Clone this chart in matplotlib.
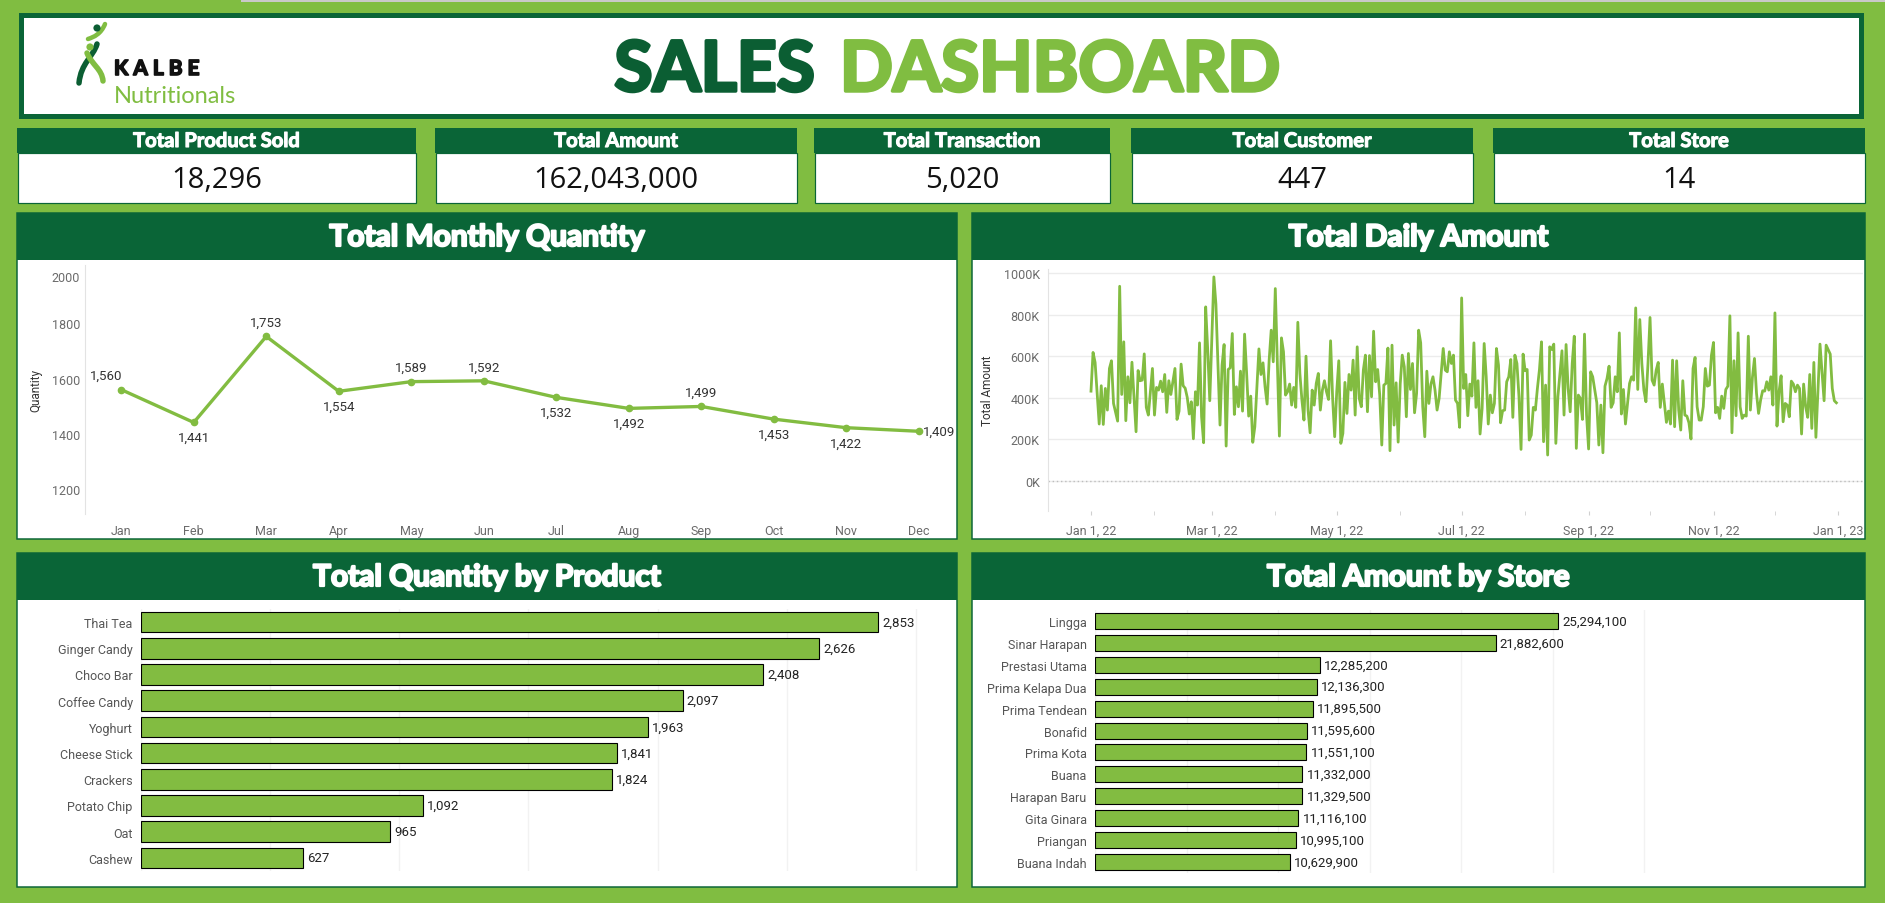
import numpy as np
import pandas as pd
import matplotlib
matplotlib.use("Agg")
import matplotlib.pyplot as plt
from matplotlib.patches import Rectangle, PathPatch, Circle
from matplotlib.path import Path
import matplotlib.patheffects as pe
import matplotlib.dates as mdates
from matplotlib.ticker import FuncFormatter
from matplotlib.transforms import ScaledTranslation


# ---- data ----
kpi_titles = ["Total Product Sold", "Total Amount", "Total Transaction", "Total Customer", "Total Store"]
kpi_values = [18296, 162043000, 5020, 447, 14]

months = ["Jan", "Feb", "Mar", "Apr", "May", "Jun", "Jul", "Aug", "Sep", "Oct", "Nov", "Dec"]
monthly_qty = [1560, 1441, 1753, 1554, 1589, 1592, 1532, 1492, 1499, 1453, 1422, 1409]

products = ["Thai Tea", "Ginger Candy", "Choco Bar", "Coffee Candy", "Yoghurt",
            "Cheese Stick", "Crackers", "Potato Chip", "Oat", "Cashew"]
product_qty = [2853, 2626, 2408, 2097, 1963, 1841, 1824, 1092, 965, 627]

stores = ["Lingga", "Sinar Harapan", "Prestasi Utama", "Prima Kelapa Dua", "Prima Tendean",
          "Bonafid", "Prima Kota", "Buana", "Harapan Baru", "Gita Ginara", "Priangan", "Buana Indah"]
store_amount = [25294100, 21882600, 12285200, 12136300, 11895500, 11595600,
                11551100, 11332000, 11329500, 11116100, 10995100, 10629900]

# daily amount (thousands), day offset from 1 Jan 2022
daily_day = [
    0, 1, 2, 4, 5, 6, 7, 8, 9, 10, 11, 13, 14, 15, 16, 17, 18, 19, 20, 22, 23, 24, 25, 26, 27,
    28, 30, 31, 32, 33, 34, 35, 36, 37, 38, 39, 41, 42, 43, 44, 45, 46, 47, 48, 49, 50, 51, 52,
    53, 54, 55, 56, 57, 58, 60, 61, 63, 64, 65, 66, 67, 68, 69, 70, 71, 72, 73, 74, 75, 76, 77,
    78, 79, 80] + list(range(82, 171)) + list(range(172, 354)) + [354, 356, 358, 359, 361, 362, 363, 364]
daily_amount_k = [
    432, 618, 570, 274, 458, 272, 445, 341, 541, 578, 373, 288, 936, 416, 669, 290, 501, 376, 571,
    237, 531, 482, 485, 611, 354, 317, 541, 317, 450, 437, 480, 429, 512, 330, 482, 416, 541, 296,
    336, 562, 458, 446, 402, 322, 381, 203, 429, 365, 664, 309, 184, 837, 629, 386, 981, 850, 269,
    557, 656, 168, 536, 544, 709, 320, 453, 357, 528, 336, 706, 517, 312,
    408, 186, 261, 635, 512, 568, 453, 370, 581, 725, 573, 925, 565, 216, 688, 621, 413, 429, 466,
    365, 450, 354, 763, 517, 389, 293, 600, 341, 232, 437, 365, 469, 517, 341, 437, 482, 429, 392,
    674, 397, 213, 429, 578, 181, 229, 474, 325, 512, 437, 581, 317, 645, 397, 357, 533, 605, 333,
    603, 405, 720, 477, 536, 413, 173, 461, 469, 639, 146, 653, 269, 472, 187, 466, 605, 549, 309,
    613, 440, 565, 328, 421, 725, 664, 357, 213, 528, 373, 466, 501, 437, 341, 397,
    637, 533, 525, 621, 565, 605, 389, 373, 258, 880, 445, 512, 314, 466, 408, 664, 354, 482, 226,
    349, 661, 501, 274, 413, 328, 373, 637, 557, 280, 338, 341, 477, 501, 584, 306, 605, 565, 405,
    152, 610, 530, 536, 197, 221, 354, 341, 445, 536, 669, 189, 461, 125, 645, 632, 658, 181, 405,
    517, 626, 317, 656, 445, 333, 565, 696, 157, 413, 397, 296, 706, 317, 154, 525, 501, 437, 376,
    173, 365, 136, 456, 493, 552, 354, 376, 501, 429, 712, 322, 440, 274, 373, 469,
    501, 485, 832, 440, 776, 565, 437, 381, 565, 786, 485, 461, 533, 570, 354, 466, 373, 282, 336,
    274, 581, 261, 578, 341, 245, 482, 317, 312, 280, 202, 541, 594, 357, 293, 293, 357, 541, 456,
    461, 605, 666, 328, 354, 301, 408, 349, 440, 456, 794, 232, 578, 314, 712, 357, 301, 317, 312,
    696, 341, 498, 589, 421, 325, 389, 434, 432, 477, 437, 501, 365, 808, 264, 429, 506, 285, 373,
    365, 309, 480, 466, 429, 461, 445, 226, 466, 357, 306, 512, 253, 570,
    210, 658, 386, 653, 610, 445, 386, 376]

# ---- style ----
W, H = 1885, 904
DARK = "#0a6537"
LIGHT = "#80bd41"
LINE = "#82bc41"
GREY = "#6b6b6b"
TFONT = "Lato"
LFONT = "Roboto"

fig = plt.figure(figsize=(W / 100, H / 100), dpi=100, facecolor=LIGHT)
bg = fig.add_axes([0, 0, 1, 1])
bg.set_xlim(0, W)
bg.set_ylim(H, 0)
bg.axis("off")


def px_axes(x0, y0, x1, y1):
    return fig.add_axes([x0 / W, 1 - y1 / H, (x1 - x0) / W, (y1 - y0) / H])


def px(n):
    return n * 0.72


def heavy(color, width):
    # thicken the bold face a little, the original uses an extra-bold font
    return [pe.withStroke(linewidth=width, foreground=color)]


# header
bg.add_patch(Rectangle((241, 0), W - 241, 3, fc="#c9c9c9", lw=0))
bg.add_patch(Rectangle((20.5, 15.5), 1840, 101, fc="white", ec=DARK, lw=px(5)))
bg.text(815, 92, "SALES", ha="right", va="baseline", color="#0b5e33",
        fontsize=50, fontweight="bold", family=TFONT, path_effects=heavy("#0b5e33", 2.5))
bg.text(840, 92, "DASHBOARD", ha="left", va="baseline", color=LIGHT,
        fontsize=50, fontweight="bold", family=TFONT, path_effects=heavy(LIGHT, 2.5))

# logo
dark_stroke = Path([(79, 84), (81, 64), (93, 58), (97, 45)],
                   [Path.MOVETO, Path.CURVE4, Path.CURVE4, Path.CURVE4])
light_stroke = Path([(87, 54), (92, 66), (102, 70), (103, 82)],
                    [Path.MOVETO, Path.CURVE4, Path.CURVE4, Path.CURVE4])
top_stroke = Path([(88, 40), (94, 38), (101, 35), (105, 25)],
                  [Path.MOVETO, Path.CURVE4, Path.CURVE4, Path.CURVE4])
bg.add_patch(PathPatch(dark_stroke, fill=False, ec="#0b5e33", lw=px(5.5), capstyle="round"))
bg.add_patch(PathPatch(light_stroke, fill=False, ec=LIGHT, lw=px(5.5), capstyle="round"))
bg.add_patch(PathPatch(top_stroke, fill=False, ec=LIGHT, lw=px(4.5), capstyle="round"))
bg.add_patch(Circle((97, 29), 3.6, fc="#0b5e33", lw=0))
bg.add_patch(Circle((90, 48), 3.6, fc=LIGHT, lw=0))
bg.text(114, 76, "K A L B E", ha="left", va="baseline", fontsize=15, fontweight="bold",
        family=TFONT, color="#111111", path_effects=heavy("#111111", 1.2))
bg.text(114, 103, "Nutritionals", ha="left", va="baseline", fontsize=17,
        family=TFONT, color=LIGHT)

# KPI cards
kpi_boxes = [(17, 416), (435, 797), (814, 1110), (1131, 1473), (1493, 1865)]
for (x0, x1), title, val in zip(kpi_boxes, kpi_titles, kpi_values):
    bg.add_patch(Rectangle((x0 + 0.5, 154), x1 - x0 - 1, 50, fc="white", ec=DARK, lw=px(1.2)))
    bg.add_patch(Rectangle((x0, 129), x1 - x0, 25, fc=DARK, lw=0))
    bg.text((x0 + x1) / 2, 142, title, ha="center", va="center", color="white",
            fontsize=14.5, fontweight="bold", family=TFONT, path_effects=heavy("white", 0.8))
    bg.text((x0 + x1) / 2, 180, f"{val:,}", ha="center", va="center", color="#111111",
            fontsize=21, family="Open Sans")

# panels
panels = {
    "Total Monthly Quantity": (17, 214, 957, 540),
    "Total Daily Amount": (972, 214, 1865, 540),
    "Total Quantity by Product": (17, 554, 957, 888),
    "Total Amount by Store": (972, 554, 1865, 888),
}
for title, (x0, y0, x1, y1) in panels.items():
    bg.add_patch(Rectangle((x0, y0), x1 - x0, y1 - y0, fc="white", ec=DARK, lw=px(1.5)))
    bg.add_patch(Rectangle((x0, y0), x1 - x0, 47, fc=DARK, lw=0))
    bg.text((x0 + x1) / 2, y0 + 24, title, ha="center", va="center", color="white",
            fontsize=21.5, fontweight="bold", family=TFONT, path_effects=heavy("white", 1.6))


def clean(ax):
    for s in ax.spines.values():
        s.set_visible(False)
    ax.set_facecolor("none")


# ---- monthly quantity ----
ax = px_axes(85, 266, 955, 515)
clean(ax)
ax.spines["left"].set_visible(True)
ax.spines["left"].set_color("#e3e3e3")
x = np.arange(len(months))
ax.plot(x, monthly_qty, color=LINE, lw=2.4, marker="o", ms=4.5, solid_capstyle="round")
ax.set_xlim(-0.5, 11.5)
ax.set_ylim(1109, 2012)
ax.set_yticks([1200, 1400, 1600, 1800, 2000])
ax.set_xticks(x)
ax.set_xticklabels(months)
ax.tick_params(length=0, labelsize=9, labelcolor=GREY)
ax.tick_params(axis="x", pad=7)
for t in ax.get_xticklabels() + ax.get_yticklabels():
    t.set_family(LFONT)
top_lbl = ax.get_yticklabels()[-1]
top_lbl.set_transform(top_lbl.get_transform() + ScaledTranslation(0, -8 / 100, fig.dpi_scale_trans))
ax.set_ylabel("Quantity", fontsize=8.5, family=LFONT, color="#333333", labelpad=7)
side = ["above-left", "below", "above", "below", "above", "above",
        "below", "below", "above", "below", "below", "right"]
offs = {"above": (0, 10), "above-left": (-11, 10), "below": (0, -11), "right": (3, 0)}
for i, (v, s) in enumerate(zip(monthly_qty, side)):
    ax.annotate(f"{v:,}", (i, v), xytext=offs[s], textcoords="offset points",
                ha="left" if s == "right" else "center", va="center",
                fontsize=9.5, family=LFONT, color="#333333", annotation_clip=False)

# ---- daily amount ----
ax = px_axes(1048, 270, 1863, 512)
clean(ax)
ax.spines["left"].set_visible(True)
ax.spines["left"].set_color("#e3e3e3")
start = pd.Timestamp("2022-01-01")
dates = start + pd.to_timedelta(daily_day, unit="D")
ax.plot(dates, np.array(daily_amount_k) * 1000, color=LINE, lw=2.0, solid_joinstyle="round")
ax.set_xlim(start - pd.Timedelta(days=21), start + pd.Timedelta(days=377))
ax.set_ylim(-144000, 1019000)
ax.set_yticks(np.arange(0, 1000001, 200000))
ax.yaxis.set_major_formatter(FuncFormatter(lambda v, p: f"{v / 1000:.0f}K"))
ax.grid(axis="y", color="#ececec", lw=1)
ax.axhline(0, color="#bdbdbd", lw=1, ls=(0, (1, 2)))
ax.xaxis.set_major_locator(mdates.MonthLocator(bymonth=[1, 3, 5, 7, 9, 11]))
ax.xaxis.set_minor_locator(mdates.MonthLocator())
ax.xaxis.set_major_formatter(FuncFormatter(
    lambda v, p: (lambda d: f"{d:%b} {d.day}, {d:%y}")(mdates.num2date(v))))
ax.tick_params(axis="y", length=0, labelsize=9, labelcolor=GREY, pad=6)
ax.tick_params(axis="x", which="both", length=3, color="#d0d0d0", labelsize=9,
               labelcolor=GREY, pad=6)
for t in ax.get_xticklabels() + ax.get_yticklabels():
    t.set_family(LFONT)
ax.set_ylabel("Total Amount", fontsize=8.5, family=LFONT, color="#333333", labelpad=7)

# ---- quantity by product ----
ax = px_axes(141, 610, 950, 872)
clean(ax)
yp = np.arange(len(products))
bars = ax.barh(yp, product_qty, height=0.78, color=LINE, ec="black", lw=0.8, zorder=3)
ax.set_ylim(len(products) - 0.5, -0.5)
ax.set_xlim(0, 3132)
ax.set_xticks(np.arange(0, 3001, 500))
ax.grid(axis="x", color="#f2f2f2", lw=1)
ax.tick_params(axis="x", length=0, labelbottom=False)
ax.set_yticks(yp)
ax.set_yticklabels(products)
ax.tick_params(axis="y", length=0, labelsize=9, labelcolor="#555555", pad=6)
for t in ax.get_yticklabels():
    t.set_family(LFONT)
ax.bar_label(bars, labels=[f"{v:,}" for v in product_qty], padding=3, fontsize=9.5,
             family=LFONT, color="#222222")

# ---- amount by store ----
ax = px_axes(1095, 611, 1650, 874)
clean(ax)
ys = np.arange(len(stores))
bars = ax.barh(ys, store_amount, height=0.73, color=LINE, ec="black", lw=0.8, zorder=3)
ax.set_ylim(len(stores) - 0.5, -0.5)
ax.set_xlim(0, 30.32e6)
ax.set_xticks(np.arange(0, 30.1e6, 5e6))
ax.grid(axis="x", color="#f2f2f2", lw=1)
ax.tick_params(axis="x", length=0, labelbottom=False)
ax.set_yticks(ys)
ax.set_yticklabels(stores)
ax.tick_params(axis="y", length=0, labelsize=9, labelcolor="#555555", pad=6)
for t in ax.get_yticklabels():
    t.set_family(LFONT)
ax.bar_label(bars, labels=[f"{v:,}" for v in store_amount], padding=3, fontsize=9.5,
             family=LFONT, color="#222222")

fig.savefig("out.png", dpi=100, facecolor=LIGHT)
